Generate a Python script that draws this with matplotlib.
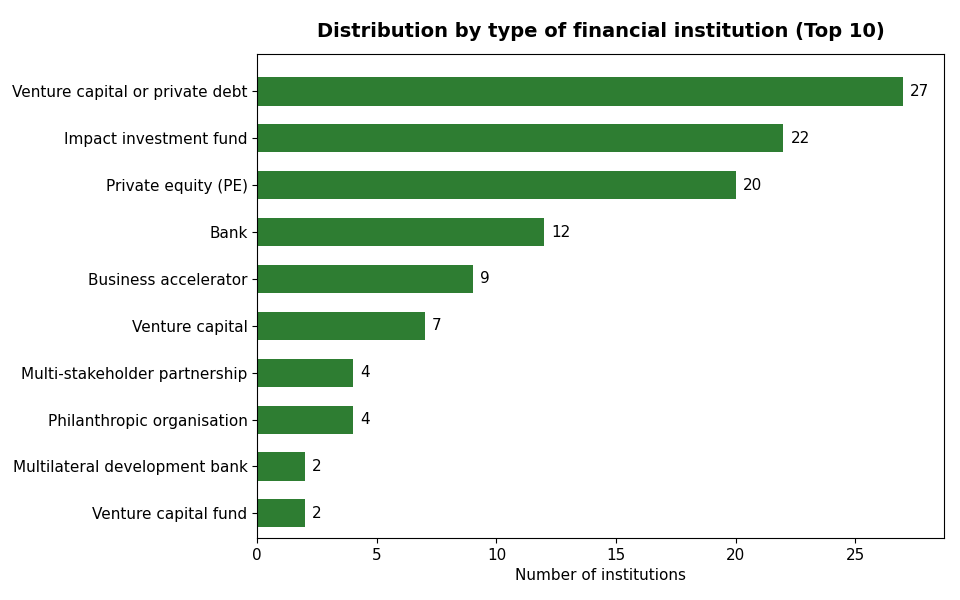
import matplotlib
matplotlib.use("Agg")
import matplotlib.pyplot as plt

categories = ["Venture capital or private debt", "Impact investment fund", "Private equity (PE)",
              "Bank", "Business accelerator", "Venture capital", "Multi-stakeholder partnership",
              "Philanthropic organisation", "Multilateral development bank", "Venture capital fund"]
values = [27, 22, 20, 12, 9, 7, 4, 4, 2, 2]

fig = plt.figure(figsize=(9.6, 6), dpi=100)
ax = fig.add_axes([0.268, 0.103, 0.715, 0.807])
y = list(range(len(categories)))[::-1]
ax.barh(y, values, height=0.6, color="#2e7d32")
for yi, v in zip(y, values):
    ax.text(v + 0.3, yi, str(v), va="center", ha="left", fontsize=11)
ax.set_yticks(y)
ax.set_yticklabels(categories, fontsize=11)
ax.tick_params(axis="x", labelsize=11)
ax.set_xlim(0, 28.7)
ax.set_ylim(-0.5 - 0.03, 9.5 + 0.3)
ax.set_xlabel("Number of institutions", fontsize=11)
ax.set_title("Distribution by type of financial institution (Top 10)", fontsize=14, fontweight="bold", pad=12)
fig.savefig("out.png", dpi=100)
